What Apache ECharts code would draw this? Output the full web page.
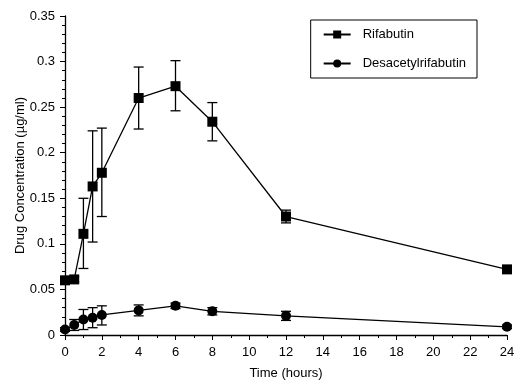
<!DOCTYPE html>
<html>
<head>
<meta charset="utf-8">
<script src="https://cdn.jsdelivr.net/npm/echarts@6/dist/echarts.min.js"></script>
<style>
  html, body { margin: 0; padding: 0; background: #fff; }
  #main { width: 514px; height: 384px; }
</style>
</head>
<body>
<div id="main"></div>
<script>
// time points (hours)
var times = [0, 0.5, 1, 1.5, 2, 4, 6, 8, 12, 24];

// Rifabutin mean and error bar ends
var rifMean = [0.060, 0.061, 0.111, 0.163, 0.178, 0.260, 0.273, 0.234, 0.130, 0.072];
var rifLow  = [0.057, 0.058, 0.073, 0.102, 0.130, 0.226, 0.246, 0.213, 0.123, 0.068];
var rifHigh = [0.063, 0.064, 0.150, 0.224, 0.227, 0.294, 0.301, 0.255, 0.137, 0.076];

// Desacetylrifabutin mean and error bar ends
var desMean = [0.006, 0.011, 0.017, 0.019, 0.022, 0.027, 0.032, 0.026, 0.021, 0.009];
var desLow  = [0.004, 0.005, 0.006, 0.008, 0.011, 0.021, 0.029, 0.022, 0.016, 0.007];
var desHigh = [0.008, 0.017, 0.028, 0.030, 0.032, 0.033, 0.035, 0.030, 0.026, 0.011];

var seriesNames = ['Rifabutin', 'Desacetylrifabutin'];

function pairs(ys) {
    return times.map(function (t, i) { return [t, ys[i]]; });
}
function bars(lo, hi) {
    return times.map(function (t, i) { return [t, lo[i], hi[i]]; });
}

// vertical error bar with caps
function renderErr(params, api) {
    var lo = api.coord([api.value(0), api.value(1)]);
    var hi = api.coord([api.value(0), api.value(2)]);
    var w = 5;
    var st = { stroke: '#000', lineWidth: 1.3 };
    return {
        type: 'group',
        children: [
            { type: 'line', shape: { x1: lo[0], y1: lo[1], x2: hi[0], y2: hi[1] }, style: st },
            { type: 'line', shape: { x1: lo[0] - w, y1: lo[1], x2: lo[0] + w, y2: lo[1] }, style: st },
            { type: 'line', shape: { x1: hi[0] - w, y1: hi[1], x2: hi[0] + w, y2: hi[1] }, style: st }
        ]
    };
}

var myChart = echarts.init(document.getElementById('main'));

var font = 'Liberation Sans, Arial';

option = {
    animation: false,
    textStyle: { fontFamily: font },
    grid: { left: 65, right: 7, top: 16, bottom: 49, outerBoundsMode: 'none' },
    legend: {
        right: 37,
        top: 20,
        orient: 'vertical',
        itemGap: 16,
        itemWidth: 27,
        itemHeight: 10,
        padding: [8, 11, 8, 12],
        borderColor: '#000',
        borderWidth: 1,
        textStyle: { color: '#000', fontSize: 13, fontFamily: font, padding: [0, 0, 0, 7] },
        data: seriesNames
    },
    xAxis: {
        type: 'value',
        min: 0,
        max: 24,
        interval: 2,
        name: 'Time (hours)',
        nameLocation: 'middle',
        nameGap: 32,
        nameMoveOverlap: false,
        nameTextStyle: { color: '#000', fontSize: 13, fontFamily: font },
        axisLine: { onZero: false, lineStyle: { color: '#000', width: 1.3 } },
        axisTick: { show: true, inside: false, length: 5, lineStyle: { color: '#000' } },
        minorTick: { show: true, splitNumber: 2, length: 3, lineStyle: { color: '#000' } },
        axisLabel: { color: '#000', fontFamily: font, fontSize: 13, margin: 11 },
        splitLine: { show: false }
    },
    yAxis: {
        type: 'value',
        min: 0,
        max: 0.35,
        interval: 0.05,
        name: 'Drug Concentration (µg/ml)',
        nameLocation: 'middle',
        nameGap: 38,
        nameMoveOverlap: false,
        nameTextStyle: { color: '#000', fontSize: 13, fontFamily: font },
        axisLine: { show: true, lineStyle: { color: '#000', width: 1.3 } },
        axisTick: { show: true, inside: false, length: 5, lineStyle: { color: '#000' } },
        minorTick: { show: true, splitNumber: 5, length: 3, lineStyle: { color: '#000' } },
        axisLabel: { color: '#000', fontFamily: font, fontSize: 13, margin: 10 },
        splitLine: { show: false }
    },
    series: [
        {
            type: 'custom',
            renderItem: renderErr,
            data: bars(rifLow, rifHigh),
            encode: { x: 0, y: [1, 2] },
            silent: true,
            z: 1
        },
        {
            type: 'custom',
            renderItem: renderErr,
            data: bars(desLow, desHigh),
            encode: { x: 0, y: [1, 2] },
            silent: true,
            z: 1
        },
        {
            name: seriesNames[0],
            type: 'line',
            data: pairs(rifMean),
            symbol: 'rect',
            symbolSize: 10,
            itemStyle: { color: '#000' },
            lineStyle: { color: '#000', width: 1.3 },
            z: 2
        },
        {
            name: seriesNames[1],
            type: 'line',
            data: pairs(desMean),
            symbol: 'circle',
            symbolSize: 10,
            itemStyle: { color: '#000' },
            lineStyle: { color: '#000', width: 1.3 },
            z: 2
        }
    ]
};

myChart.setOption(option);
</script>
</body>
</html>
